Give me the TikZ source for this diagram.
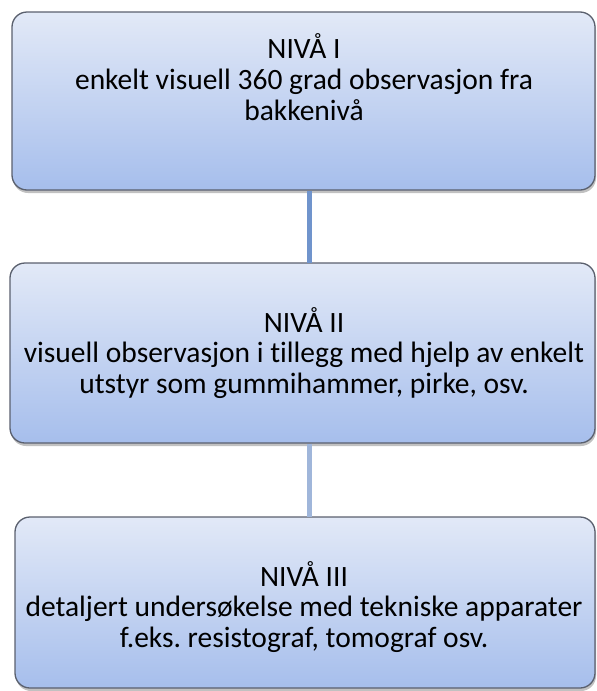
\documentclass[tikz,border=0pt]{standalone}
\usepackage{fontspec}
\setmainfont{Carlito}[Ligatures={NoCommon}]
\usetikzlibrary{shadows}
\definecolor{gtop}{RGB}{226,233,247}
\definecolor{gbot}{RGB}{166,190,236}
\definecolor{bordc}{RGB}{90,96,110}
\definecolor{linkA}{RGB}{112,148,204}
\definecolor{linkB}{RGB}{160,182,218}
\tikzset{
  levelbox/.style={draw=bordc, line width=1.3pt, rounded corners=15pt,
    top color=gtop, bottom color=gbot,
    drop shadow={shadow xshift=1pt, shadow yshift=-3pt, opacity=0.35, fill=black!70}},
  leveltext/.style={align=center, font=\fontsize{29.5}{30.8}\selectfont, inner sep=0pt},
  link/.style={line width=5pt}
}
\frenchspacing
\begin{document}
\begin{tikzpicture}[x=1pt,y=-1pt]
\useasboundingbox (0,0) rectangle (597,691);
\path[levelbox] (12,12) rectangle (595,190);
\path[levelbox] (10,263) rectangle (595,443);
\path[levelbox] (15,517) rectangle (595,688);
\coordinate (b1s) at (309,190.5);
\coordinate (b2n) at (309,262.5);
\coordinate (b2s) at (309,443.5);
\coordinate (b3n) at (309,516.5);
\draw[link, linkA] (b1s) -- (b2n);
\draw[link, linkB] (b2s) -- (b3n);
\node[leveltext] (t1) at (304,77) {NIVÅ I\\enkelt visuell 360 grad observasjon fra\\bakkenivå};
\node[leveltext] (t2) at (304,353) {NIVÅ II\\visuell observasjon i tillegg med hjelp av enkelt\\utstyr som gummihammer, pirke, osv.};
\node[leveltext] (t3) at (304,607) {NIVÅ III\\detaljert undersøkelse med tekniske apparater\\f.eks. resistograf, tomograf osv.};
\end{tikzpicture}
\end{document}
